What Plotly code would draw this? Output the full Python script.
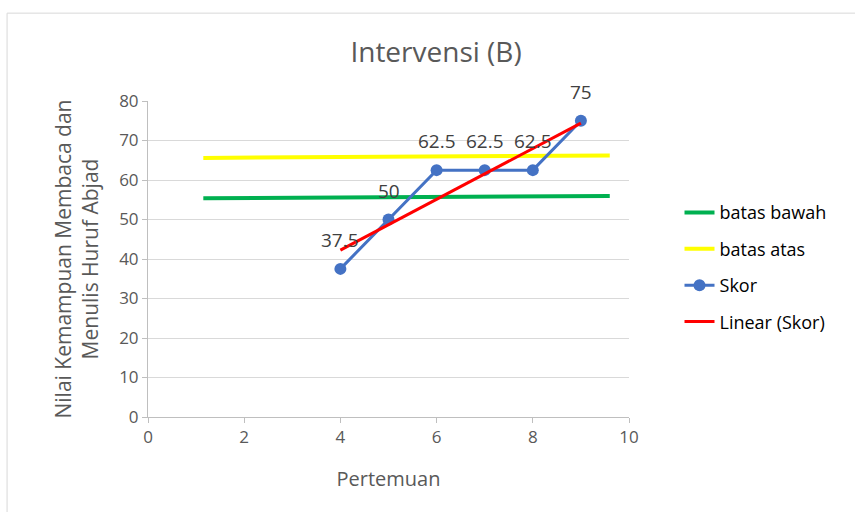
import numpy as np
import plotly.graph_objects as go

# Scores per meeting in the intervention phase
pertemuan = [4, 5, 6, 7, 8, 9]
skor = [37.5, 50, 62.5, 62.5, 62.5, 75]
skor_labels = ["37.5", "50", "62.5", "62.5", "62.5", "75"]

# Reference band limits
batas_x = [1.15, 9.6]
batas_bawah = [55.4, 55.95]
batas_atas = [65.6, 66.2]

x_ticks = [0, 2, 4, 6, 8, 10]
y_ticks = [0, 10, 20, 30, 40, 50, 60, 70, 80]

FONT = "Open Sans"
TXT = "#595959"

# Least-squares trend of the scores
slope, intercept = np.polyfit(pertemuan, skor, 1)
trend_x = [pertemuan[0], pertemuan[-1]]
trend_y = [slope * v + intercept for v in trend_x]

fig = go.Figure()
fig.add_trace(go.Scatter(x=batas_x, y=batas_bawah, mode="lines", name="batas bawah",
                         line=dict(color="#00B050", width=4), legendgroup="a"))
fig.add_trace(go.Scatter(x=batas_x, y=batas_atas, mode="lines", name="batas atas",
                         line=dict(color="#FFFF00", width=4), legendgroup="b"))
fig.add_trace(go.Scatter(x=pertemuan, y=skor, mode="lines+markers", name="Skor",
                         line=dict(color="#4472C4", width=3),
                         marker=dict(color="#4472C4", size=12), legendgroup="c"))
fig.add_trace(go.Scatter(x=trend_x, y=trend_y, mode="lines", name="Linear (Skor)",
                         line=dict(color="#FF0000", width=3), legendgroup="d"))

for xv, yv, lab in zip(pertemuan, skor, skor_labels):
    fig.add_annotation(x=xv, y=yv, text=lab, showarrow=False, yshift=29,
                       font=dict(family=FONT, size=19, color="#404040"))

# Outer chart frame
fig.add_shape(type="rect", xref="paper", yref="paper", x0=-0.293, x1=1.6,
              y0=-0.6, y1=1.278, line=dict(color="#D9D9D9", width=1), layer="below")

fig.update_layout(
    width=855, height=512,
    margin=dict(l=148, r=226, t=101, b=95),
    paper_bgcolor="white", plot_bgcolor="white",
    font=dict(family=FONT, color=TXT),
    title=dict(text="Intervensi (B)", x=0.51, xanchor="center", y=0.898, yanchor="middle",
               font=dict(family=FONT, size=28, color=TXT)),
    showlegend=True,
    legend=dict(x=1.105, y=0.705, xanchor="left", yanchor="top",
                font=dict(family=FONT, size=18, color="#000000"),
                tracegroupgap=10, bgcolor="rgba(0,0,0,0)"),
    xaxis=dict(range=[0, 10], tickvals=x_ticks, showgrid=False, zeroline=False,
               showline=True, linecolor="#BFBFBF", linewidth=1,
               ticks="outside", ticklen=5, tickcolor="#BFBFBF",
               tickfont=dict(family=FONT, size=17, color=TXT),
               title=dict(text="Pertemuan", font=dict(family=FONT, size=20, color=TXT), standoff=24)),
    yaxis=dict(range=[0, 80], tickvals=y_ticks, showgrid=True, gridcolor="#D9D9D9",
               zeroline=False, showline=True, linecolor="#BFBFBF", linewidth=1,
               ticks="outside", ticklen=5, tickcolor="#BFBFBF",
               tickfont=dict(family=FONT, size=17, color=TXT),
               title=dict(text="Nilai Kemampuan Membaca dan<br>Menulis Huruf Abjad",
                          font=dict(family=FONT, size=21, color=TXT), standoff=14)),
)

fig.write_html("out.html")
